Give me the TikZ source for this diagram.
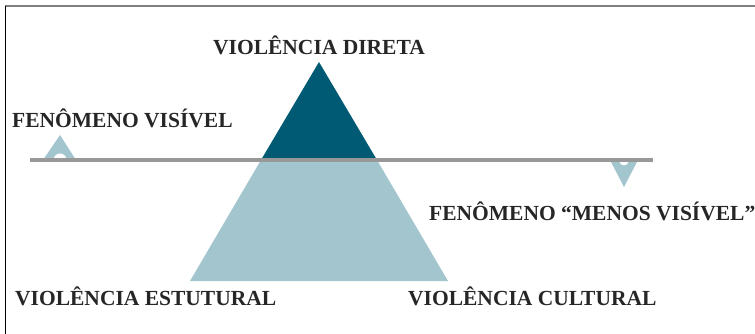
\documentclass[tikz,border=0pt]{standalone}
\usepackage{fontspec}
\setmainfont{Liberation Serif}
\usepackage{xcolor}
\definecolor{darkteal}{RGB}{0,90,115}
\definecolor{lightteal}{RGB}{163,197,206}
\definecolor{linegray}{RGB}{152,152,152}
\tikzset{
  violtext/.style={font=\fontsize{21.5}{24}\selectfont\bfseries, inner sep=0pt, text=black!85},
}

\begin{document}
\begin{tikzpicture}[x=1pt,y=-1pt]
        \useasboundingbox (0,0) rectangle (755,334);

        % Draw frame
        \draw[gray, line width=2pt] (5,6.5) -- (755,6.5);
        \draw[black, line width=1.5pt] (5.5,6) -- (5.5,334);

        % Draw iceberg
        \fill[lightteal] (261,160) -- (377,160) -- (448,281) -- (190,281) -- cycle;
        \fill[darkteal] (319,62) -- (377,160) -- (261,160) -- cycle;

        % Small markers above and below the line
        \fill[lightteal] (43,160) -- (60,135) -- (76,160) -- cycle;
        \fill[white] (60,160) circle (6.5);
        \fill[lightteal] (610,160) -- (638,160) -- (624,187) -- cycle;
        \fill[white] (624,161) circle (4.5);

        % Draw water line
        \coordinate (waterL) at (30,160);
        \coordinate (waterR) at (653,160);
        \draw[linegray, line width=3.5pt] (waterL) -- (waterR);

        % Add labels
        \node[violtext, anchor=base] (direta) at (319,55) {VIOLÊNCIA DIRETA};
        \node[violtext, anchor=base west] (visivel) at (12,128) {FENÔMENO VISÍVEL};
        \node[violtext, anchor=base west] (menosvisivel) at (429,220) {FENÔMENO “MENOS VISÍVEL”};
        \node[violtext, anchor=base west] (estrutural) at (15,305) {VIOLÊNCIA ESTUTURAL};
        \node[violtext, anchor=base west] (cultural) at (408,305) {VIOLÊNCIA CULTURAL};
    \end{tikzpicture}
\end{document}
